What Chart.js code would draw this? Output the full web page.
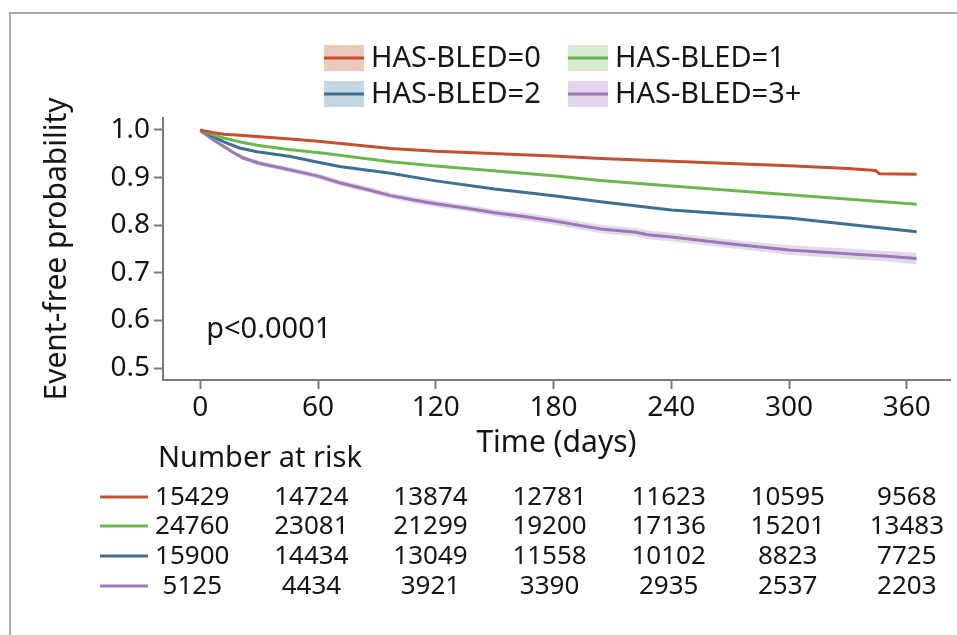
<!DOCTYPE html>
<html>
<head>
  <title>HAS-BLED Kaplan-Meier</title>
  <script src="https://cdn.jsdelivr.net/npm/chart.js@4.4.1/dist/chart.umd.min.js"></script>
  <style>
    body { margin: 0; background: #fff; overflow: hidden; }
    .wrap { position: relative; width: 957px; height: 635px; overflow: hidden; }
    .frame { position: absolute; left: 9px; top: 12px; width: 960px; height: 640px; border: 2px solid #a9a9a9; }
    canvas { position: absolute; left: 0; top: 0; }
  </style>
</head>
<body>
  <div class="wrap">
    <div class="frame"></div>
    <canvas id="km" width="957" height="635"></canvas>
  </div>
  <script>
    // series (time in days, event-free probability)
    const groups = ['HAS-BLED=0', 'HAS-BLED=1', 'HAS-BLED=2', 'HAS-BLED=3+'];
    const lineColors = ['#c4502f', '#6cb650', '#3f6f92', '#9e78b6'];
    const bandColors = ['#ecc8bd', '#d7ebd0', '#c3d6e3', '#e3d5eb'];

    const days0 = [0, 3, 7, 12, 20, 46, 60, 97, 120, 180, 204, 240, 300, 330, 344, 346, 365];
    const surv0 = [1.0, 0.997, 0.994, 0.991, 0.989, 0.981, 0.976, 0.961, 0.955, 0.945, 0.940, 0.934, 0.925, 0.919, 0.915, 0.908, 0.907];

    const days1 = [0, 3, 7, 12, 20, 29, 45, 63, 97, 120, 180, 204, 240, 300, 365];
    const surv1 = [1.0, 0.995, 0.989, 0.983, 0.975, 0.968, 0.959, 0.951, 0.933, 0.924, 0.904, 0.894, 0.882, 0.864, 0.844];

    const days2 = [0, 3, 7, 12, 20, 29, 46, 60, 71, 97, 120, 150, 180, 204, 240, 260, 300, 365];
    const surv2 = [1.0, 0.993, 0.985, 0.975, 0.962, 0.954, 0.944, 0.932, 0.923, 0.909, 0.893, 0.876, 0.862, 0.849, 0.832, 0.826, 0.815, 0.786];

    const days3 = [0, 3, 7, 12, 17, 22, 30, 46, 60, 71, 85, 97, 110, 120, 135, 150, 165, 180, 204, 222, 228, 240, 272, 300, 330, 350, 365];
    const surv3 = [0.998, 0.990, 0.978, 0.965, 0.952, 0.941, 0.930, 0.916, 0.903, 0.889, 0.875, 0.862, 0.852, 0.845, 0.836, 0.826, 0.818, 0.809, 0.792, 0.785, 0.780, 0.775, 0.760, 0.748, 0.740, 0.735, 0.730];
    const upper3 = [0.999, 0.993, 0.981, 0.969, 0.956, 0.946, 0.935, 0.921, 0.909, 0.895, 0.881, 0.868, 0.859, 0.852, 0.843, 0.833, 0.826, 0.817, 0.801, 0.794, 0.789, 0.784, 0.769, 0.758, 0.751, 0.746, 0.742];
    const lower3 = [0.997, 0.987, 0.975, 0.961, 0.948, 0.936, 0.925, 0.911, 0.897, 0.883, 0.869, 0.856, 0.845, 0.838, 0.829, 0.819, 0.810, 0.801, 0.783, 0.776, 0.771, 0.766, 0.751, 0.738, 0.729, 0.724, 0.718];

    const riskDays = [0, 60, 120, 180, 240, 300, 360];
    const atRisk = [
      [15429, 14724, 13874, 12781, 11623, 10595, 9568],
      [24760, 23081, 21299, 19200, 17136, 15201, 13483],
      [15900, 14434, 13049, 11558, 10102, 8823, 7725],
      [5125, 4434, 3921, 3390, 2935, 2537, 2203]
    ];

    const pts = (d, v) => d.map((t, i) => ({ x: t, y: v[i] }));
    const font = 'Noto Sans';
    const ink = '#151515';
    const axisGrey = '#7a7a7a';

    const line = (i, d, v) => ({
      label: groups[i], data: pts(d, v), borderColor: lineColors[i], borderWidth: 3,
      pointRadius: 0, fill: false, tension: 0
    });

    // legend, p-value and number-at-risk table
    const extras = {
      id: 'extras',
      afterDraw(chart) {
        const ctx = chart.ctx;
        const xs = chart.scales.x, ys = chart.scales.y;
        ctx.save();
        ctx.fillStyle = ink;
        ctx.textBaseline = 'middle';

        // legend: 2 x 2
        const colX = [324, 568], rowY = [58, 94];
        ctx.font = '29px "' + font + '"';
        ctx.textAlign = 'left';
        groups.forEach((g, i) => {
          const x = colX[i % 2], y = rowY[Math.floor(i / 2)];
          ctx.fillStyle = bandColors[i];
          ctx.fillRect(x, y - 13, 40, 26);
          ctx.fillStyle = lineColors[i];
          ctx.fillRect(x, y - 1.5, 40, 3);
          ctx.fillStyle = ink;
          ctx.fillText(g, x + 47, y + 1);
        });

        // p-value
        ctx.font = '29px "' + font + '"';
        ctx.fillText('p<0.0001', xs.getPixelForValue(3), ys.getPixelForValue(0.58));

        // number at risk
        ctx.fillText('Number at risk', 158, 459);
        ctx.font = '26px "' + font + '"';
        ctx.textAlign = 'center';
        const rowsY = [497, 526, 556, 586];
        atRisk.forEach((row, r) => {
          ctx.fillStyle = lineColors[r];
          ctx.fillRect(100, rowsY[r] - 1.5, 48, 3);
          ctx.fillStyle = ink;
          row.forEach((n, c) => {
            const t = riskDays[c];
            const cx = xs.getPixelForValue(t) - 8 + 8 * t / 360;
            ctx.fillText(String(n), cx, rowsY[r] + 1);
          });
        });
        ctx.restore();
      }
    };

    const ctx = document.getElementById('km').getContext('2d');
    new Chart(ctx, {
      type: 'line',
      data: {
        datasets: [
          { label: 'upper3', data: pts(days3, upper3), borderWidth: 0, pointRadius: 0,
            backgroundColor: 'rgba(158,120,182,0.28)', fill: '+1', tension: 0 },
          { label: 'lower3', data: pts(days3, lower3), borderWidth: 0, pointRadius: 0, fill: false, tension: 0 },
          line(0, days0, surv0),
          line(1, days1, surv1),
          line(2, days2, surv2),
          line(3, days3, surv3)
        ]
      },
      options: {
        responsive: false,
        animation: false,
        devicePixelRatio: 1,
        layout: { padding: { left: 37, top: 118, right: 7, bottom: 172 } },
        plugins: { legend: { display: false }, tooltip: { enabled: false } },
        scales: {
          x: {
            type: 'linear', min: -19, max: 382,
            afterFit: s => { s.height = 83; },
            border: { display: true, color: axisGrey, width: 2 },
            grid: { drawOnChartArea: false, drawTicks: true, tickLength: 9, tickWidth: 2, tickColor: axisGrey },
            ticks: { stepSize: 60, includeBounds: false, padding: 2, color: ink, font: { family: font, size: 28 }, maxRotation: 0 },
            title: { display: true, text: 'Time (days)', color: ink, font: { family: font, size: 30 }, padding: { top: 2, bottom: 2 } }
          },
          y: {
            min: 0.475, max: 1.025,
            afterFit: s => { s.width = 126; },
            border: { display: true, color: axisGrey, width: 2 },
            grid: { drawOnChartArea: false, drawTicks: true, tickLength: 9, tickWidth: 2, tickColor: axisGrey },
            ticks: { stepSize: 0.1, includeBounds: false, padding: 4, color: ink, font: { family: font, size: 28 },
              callback: v => v.toFixed(1) },
            title: { display: true, text: 'Event-free probability', color: ink, font: { family: font, size: 30 }, padding: { top: 2, bottom: 2 } }
          }
        }
      },
      plugins: [extras]
    });
  </script>
</body>
</html>
